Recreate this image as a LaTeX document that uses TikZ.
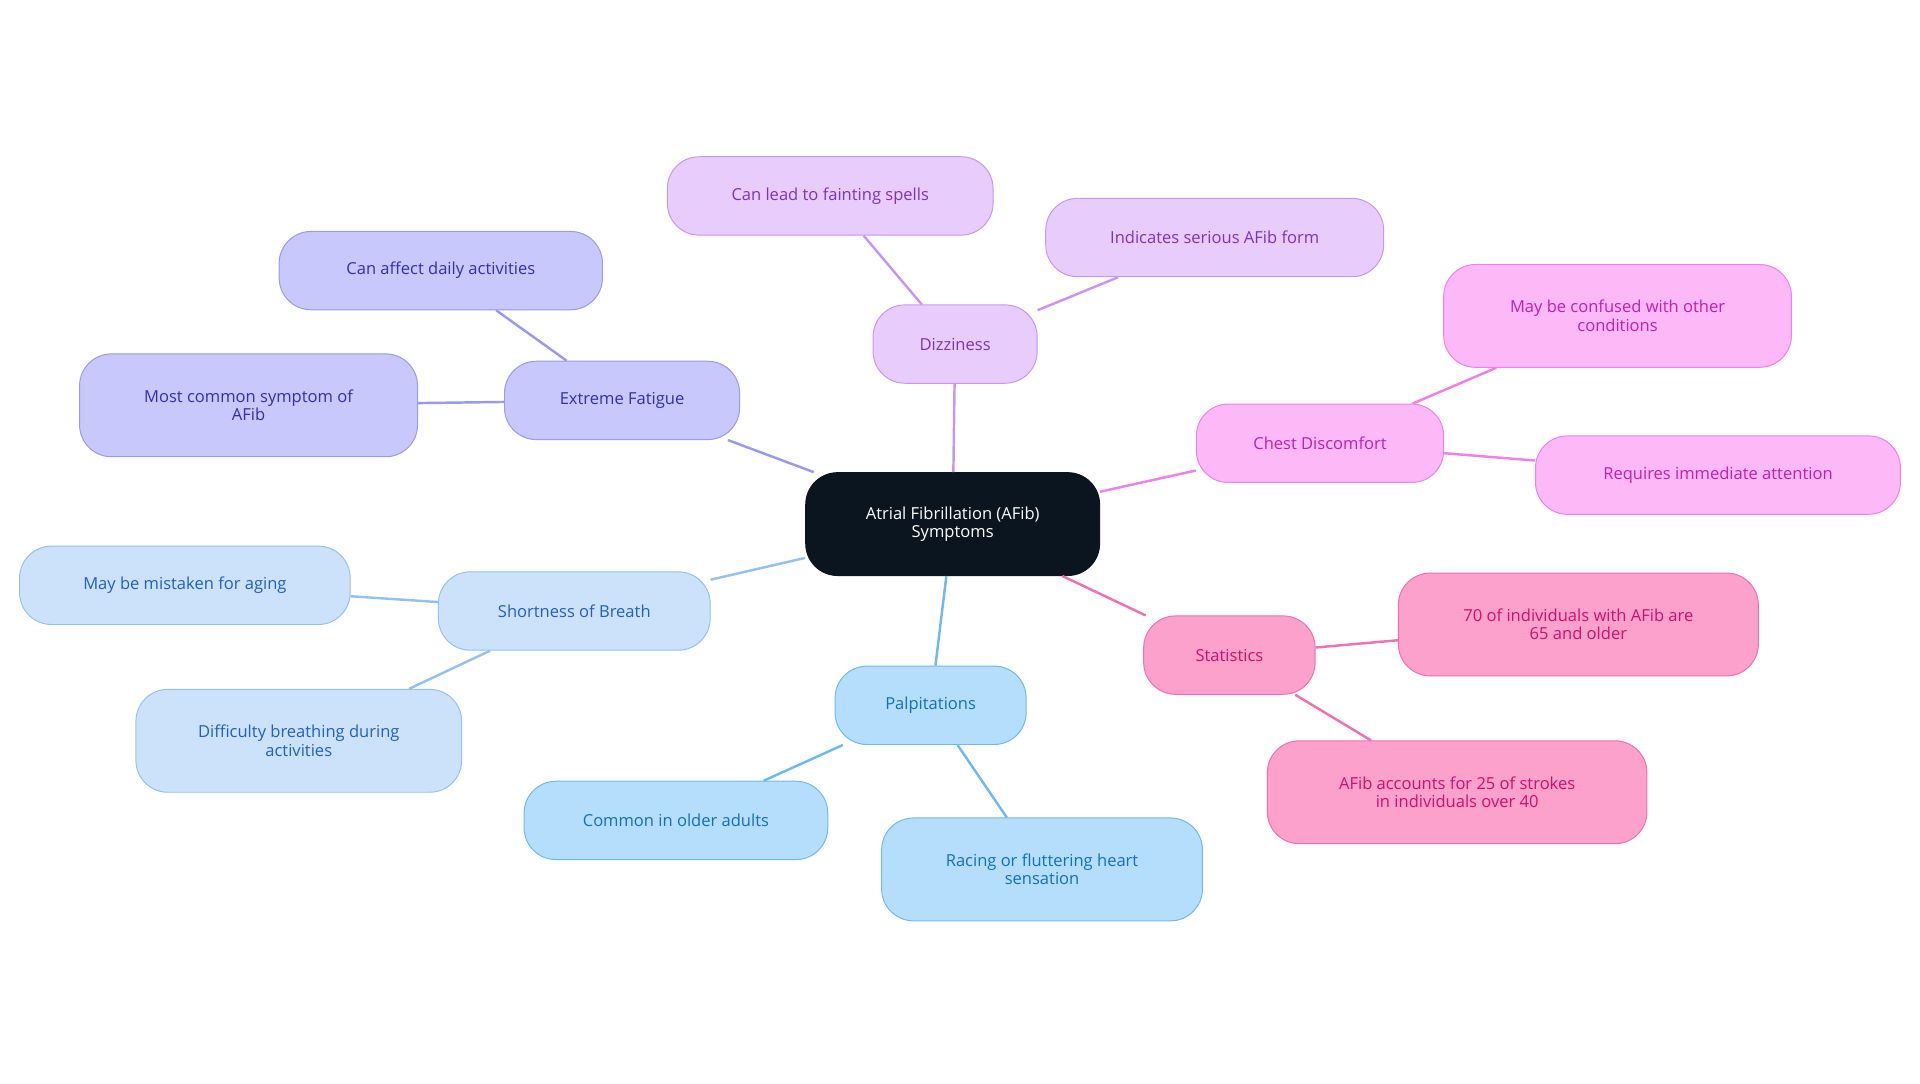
\documentclass[tikz,border=0pt]{standalone}
\usepackage{fontspec}
\setmainfont{Open Sans}
\begin{document}
\begin{tikzpicture}[x=1pt,y=-1pt,
 base/.style={rounded corners=26pt,align=center,font=\fontsize{13.5}{15}\selectfont,draw,line width=0.8pt,inner sep=0pt},
 cfat/.style={base,fill=fatF,draw=fatD,text=fatT},
 cbr/.style={base,fill=brF,draw=brD,text=brT},
 cpal/.style={base,fill=palF,draw=palD,text=palT},
 cdiz/.style={base,fill=dizF,draw=dizD,text=dizT},
 cch/.style={base,fill=chF,draw=chD,text=chT},
 cst/.style={base,fill=stF,draw=stD,text=stT},
 e/.style={line width=2pt}]
\definecolor{fatF}{HTML}{C8C8FC}\definecolor{fatD}{HTML}{9999EE}\definecolor{fatT}{HTML}{3030B0}
\definecolor{brF}{HTML}{CCE2FA}\definecolor{brD}{HTML}{96C0F0}\definecolor{brT}{HTML}{2060C0}
\definecolor{palF}{HTML}{B5DEFC}\definecolor{palD}{HTML}{70B8F0}\definecolor{palT}{HTML}{1070C0}
\definecolor{dizF}{HTML}{E8CCFC}\definecolor{dizD}{HTML}{C896F0}\definecolor{dizT}{HTML}{8030C0}
\definecolor{chF}{HTML}{FDB8F8}\definecolor{chD}{HTML}{F080E8}\definecolor{chT}{HTML}{C020B0}
\definecolor{stF}{HTML}{FCA0CC}\definecolor{stD}{HTML}{F070B0}\definecolor{stT}{HTML}{D01070}
\useasboundingbox (0,0) rectangle (1568,885);
\node[base,fill={rgb,255:red,11;green,21;blue,32},draw={rgb,255:red,11;green,21;blue,32},text=white,minimum width=240pt,minimum height=84pt] (c) at (778,428) {Atrial Fibrillation (AFib)\\Symptoms};
\node[cfat,minimum width=192pt,minimum height=64pt] (f) at (508,327) {Extreme Fatigue};
\node[cfat,minimum width=264pt,minimum height=64pt] (f1) at (360,221) {Can affect daily activities};
\node[cfat,minimum width=276pt,minimum height=84pt] (f2) at (203,331) {Most common symptom of\\AFib};
\node[cbr,minimum width=222pt,minimum height=64pt] (b) at (469,499) {Shortness of Breath};
\node[cbr,minimum width=270pt,minimum height=64pt] (b1) at (151,478) {May be mistaken for aging};
\node[cbr,minimum width=266pt,minimum height=84pt] (b2) at (244,605) {Difficulty breathing during\\activities};
\node[cpal,minimum width=156pt,minimum height=64pt] (p) at (760,576) {Palpitations};
\node[cpal,minimum width=248pt,minimum height=64pt] (p1) at (552,670) {Common in older adults};
\node[cpal,minimum width=262pt,minimum height=84pt] (p2) at (851,710) {Racing or fluttering heart\\sensation};
\node[cdiz,minimum width=134pt,minimum height=64pt] (d) at (780,281) {Dizziness};
\node[cdiz,minimum width=266pt,minimum height=64pt] (d1) at (678,160) {Can lead to fainting spells};
\node[cdiz,minimum width=276pt,minimum height=64pt] (d2) at (992,194) {Indicates serious AFib form};
\node[cch,minimum width=202pt,minimum height=64pt] (h) at (1078,362) {Chest Discomfort};
\node[cch,minimum width=284pt,minimum height=84pt] (h1) at (1321,258) {May be confused with other\\conditions};
\node[cch,minimum width=298pt,minimum height=64pt] (h2) at (1403,388) {Requires immediate attention};
\node[cst,minimum width=140pt,minimum height=64pt] (s) at (1004,535) {Statistics};
\node[cst,minimum width=294pt,minimum height=84pt] (s1) at (1289,510) {70 of individuals with AFib are\\65 and older};
\node[cst,minimum width=310pt,minimum height=84pt] (s2) at (1190,647) {AFib accounts for 25 of strokes\\in individuals over 40};
\begin{scope}[on background layer/.style={}]
\end{scope}
\begin{pgfinterruptboundingbox}\end{pgfinterruptboundingbox}
\draw[e,fatD] (c) -- (f); \draw[e,fatD] (f) -- (f1); \draw[e,fatD] (f) -- (f2);
\draw[e,brD] (c) -- (b); \draw[e,brD] (b) -- (b1); \draw[e,brD] (b) -- (b2);
\draw[e,palD] (c) -- (p); \draw[e,palD] (p) -- (p1); \draw[e,palD] (p) -- (p2);
\draw[e,dizD] (c) -- (d); \draw[e,dizD] (d) -- (d1); \draw[e,dizD] (d) -- (d2);
\draw[e,chD] (c) -- (h); \draw[e,chD] (h) -- (h1); \draw[e,chD] (h) -- (h2);
\draw[e,stD] (c) -- (s); \draw[e,stD] (s) -- (s1); \draw[e,stD] (s) -- (s2);
\end{tikzpicture}
\end{document}
